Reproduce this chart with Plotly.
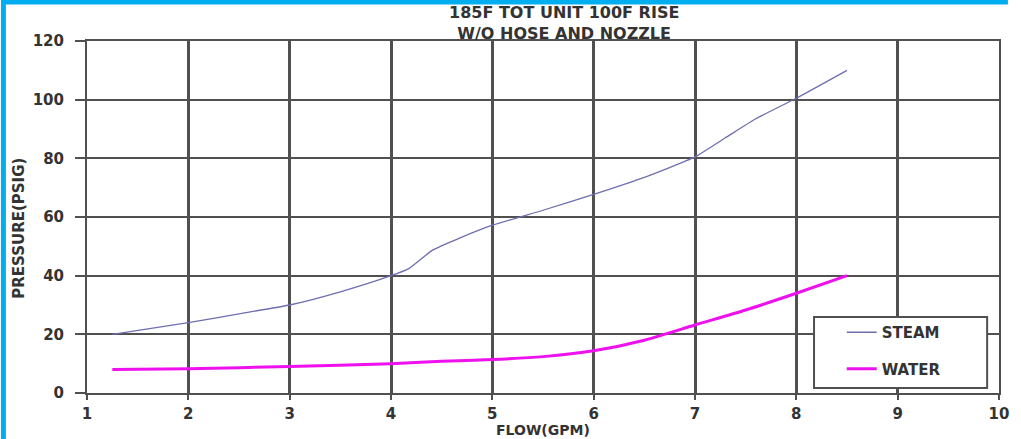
import plotly.graph_objects as go

# data
flow_steam = [1.25, 2.0, 2.5, 3.0, 3.5, 4.0, 4.18, 4.41, 4.67, 5.0, 5.5, 6.0, 6.5, 7.0, 7.3, 7.6, 8.0, 8.5]
psi_steam = [20, 24, 27, 30, 34.5, 40, 42.5, 48.7, 52.7, 57.2, 62.3, 67.7, 73.5, 80.5, 87, 93.5, 100.5, 110]

flow_water = [1.25, 2.0, 3.0, 4.0, 4.5, 5.0, 5.5, 6.0, 6.5, 7.0, 7.5, 8.0, 8.5]
psi_water = [8, 8.3, 9, 10, 10.8, 11.4, 12.4, 14.4, 18, 23.2, 28.3, 34, 40]

x_ticks = [1, 2, 3, 4, 5, 6, 7, 8, 9, 10]
y_ticks = [0, 20, 40, 60, 80, 100, 120]

W, H = 1021, 439
L, R, T, B = 87, 12, 41, 46
FONT = "DejaVu Sans, Verdana, sans-serif"
GRID = "#505050"
TXT = "#333333"

fig = go.Figure()
fig.add_trace(go.Scatter(x=flow_steam, y=psi_steam, mode="lines", name="STEAM",
                         line=dict(color="#6e6eb0", width=1.3, shape="spline", smoothing=0.5),
                         legendgroup="s"))
fig.add_trace(go.Scatter(x=flow_water, y=psi_water, mode="lines", name="WATER",
                         line=dict(color="#ee11ee", width=3, shape="spline", smoothing=0.6),
                         legendgroup="w"))

pw = W - L - R
ph = H - T - B


def px_x(p):
    return (p - L) / pw


def px_y(p):
    return (H - B - p) / ph


# cyan frame along the top and left edge, one closed path
frame = [(0, 0), (W - 3, 0), (W - 3, 4.5), (5, 4.5), (5, H), (0, H)]
frame_path = "M" + " L".join(f"{px_x(a):.5f},{px_y(b):.5f}" for a, b in frame) + " Z"

shapes = [
    # legend box
    dict(type="rect", xref="paper", yref="paper", x0=px_x(822), x1=px_x(997),
         y0=px_y(388), y1=px_y(317), fillcolor="white", line=dict(color=GRID, width=2),
         layer="above"),
    dict(type="path", xref="paper", yref="paper", path=frame_path,
         fillcolor="#00aeef", line=dict(width=0), layer="above"),
]

annotations = [
    dict(text="185F TOT UNIT 100F RISE<br>W/O HOSE AND NOZZLE", xref="paper", yref="paper",
         x=px_x(569), y=px_y(23), xanchor="center", yanchor="middle", showarrow=False,
         font=dict(family=FONT, size=16, color=TXT, weight="bold")),
    dict(text="FLOW(GPM)", xref="paper", yref="paper", x=0.5, y=px_y(430),
         xanchor="center", yanchor="middle", showarrow=False,
         font=dict(family=FONT, size=14, color=TXT, weight="bold")),
    dict(text="PRESSURE(PSIG)", xref="paper", yref="paper", x=px_x(18), y=px_y(228),
         xanchor="center", yanchor="middle", textangle=-90, showarrow=False,
         font=dict(family=FONT, size=15, color=TXT, weight="bold")),
]

fig.update_layout(
    width=W, height=H,
    margin=dict(l=L, r=R, t=T, b=B),
    paper_bgcolor="white", plot_bgcolor="white",
    font=dict(family=FONT, size=15, color=TXT),
    showlegend=True,
    legend=dict(x=px_x(850), y=px_y(316), xanchor="left", yanchor="top",
                bgcolor="rgba(0,0,0,0)", borderwidth=0, tracegroupgap=14,
                font=dict(family=FONT, size=15, color=TXT, weight="bold")),
    shapes=shapes,
    annotations=annotations,
)

tick_font = dict(family=FONT, size=15, color=TXT, weight="bold")
fig.update_xaxes(range=[1, 10], tickvals=x_ticks, showgrid=True, gridcolor=GRID, gridwidth=2.5,
                 showline=True, linecolor=GRID, linewidth=2, mirror=True, zeroline=False,
                 ticks="outside", ticklen=5, tickcolor=GRID, tickwidth=2, ticklabelstandoff=1,
                 tickfont=tick_font)
fig.update_yaxes(range=[0, 120], tickvals=y_ticks, showgrid=True, gridcolor=GRID, gridwidth=2,
                 showline=True, linecolor=GRID, linewidth=2, mirror=True, zeroline=False,
                 ticks="outside", ticklen=10, tickcolor=GRID, tickwidth=2, ticklabelstandoff=8,
                 tickfont=tick_font)

fig.write_html("out.html", config={"displayModeBar": False},
               post_script="document.body.style.margin='0';")
